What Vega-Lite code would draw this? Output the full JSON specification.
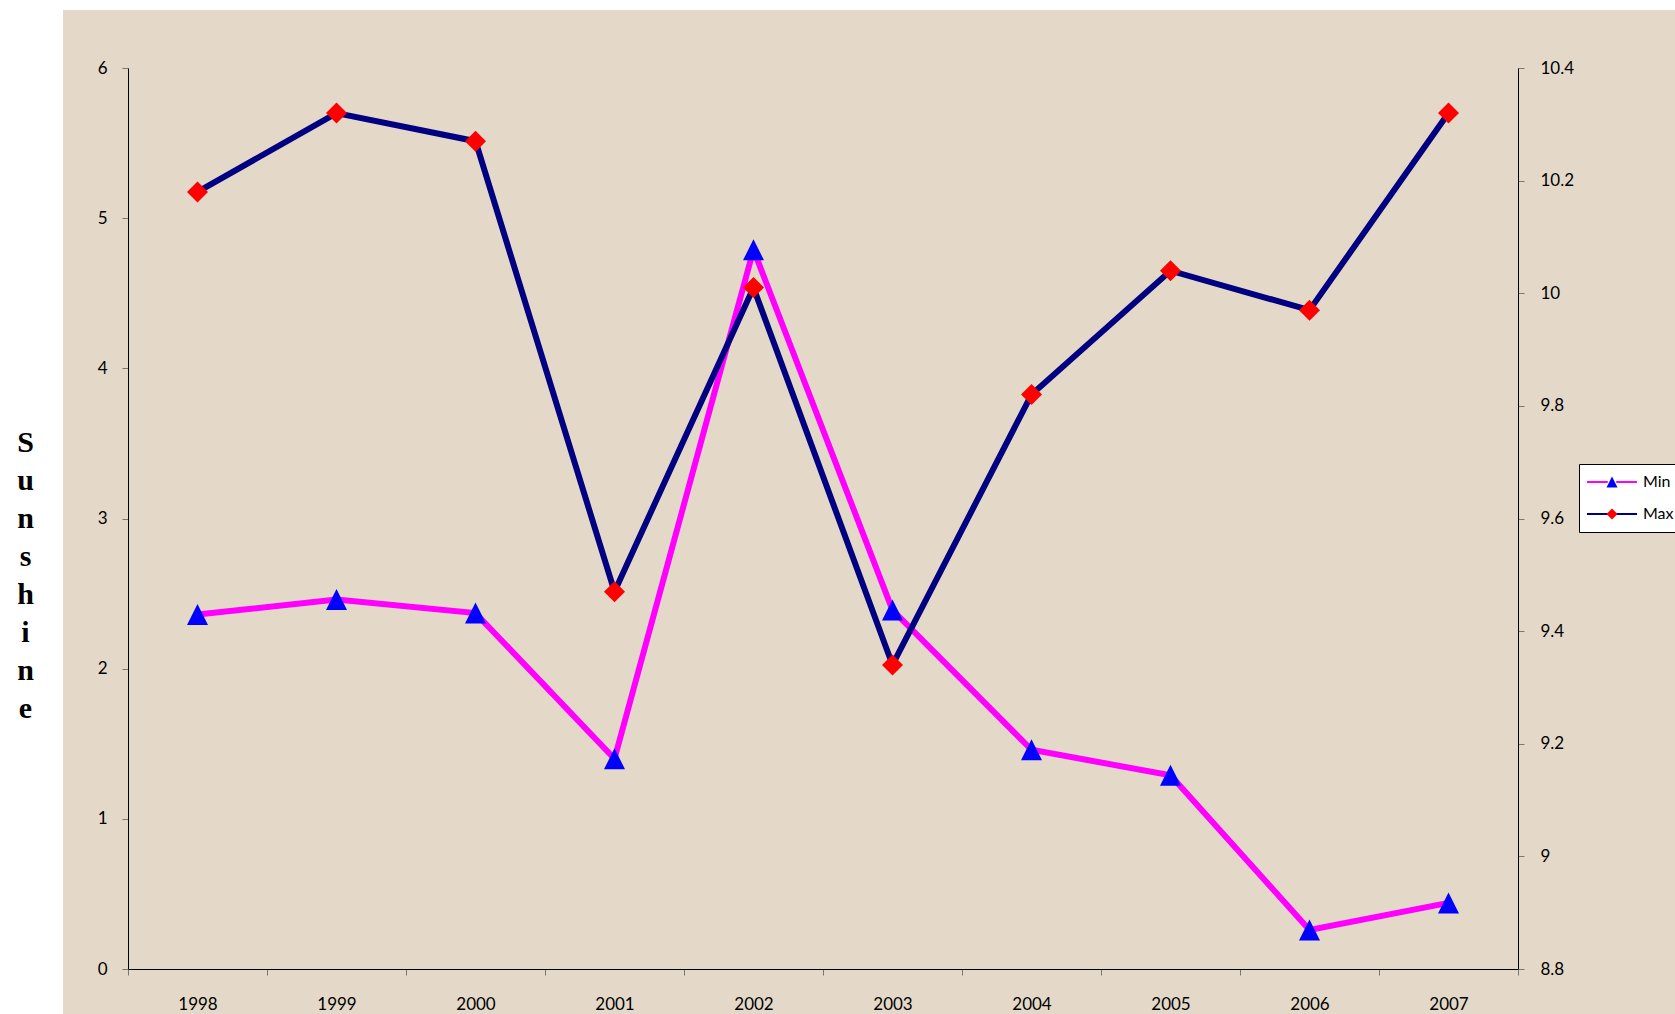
{
  "$schema": "https://vega.github.io/schema/vega-lite/v6.json",
  "width": 1612,
  "height": 1004,
  "autosize": {"type": "none"},
  "padding": {"left": 63, "top": 10, "right": 0, "bottom": 0},
  "background": "#ffffff",
  "config": {
    "view": {"fill": "#E4D9C8", "stroke": null},
    "font": "Lato"
  },
  "data": {
    "values": [
      {"year": 1998, "series": "Min", "value": 2.36},
      {"year": 1999, "series": "Min", "value": 2.46},
      {"year": 2000, "series": "Min", "value": 2.37},
      {"year": 2001, "series": "Min", "value": 1.40},
      {"year": 2002, "series": "Min", "value": 4.79},
      {"year": 2003, "series": "Min", "value": 2.39},
      {"year": 2004, "series": "Min", "value": 1.46},
      {"year": 2005, "series": "Min", "value": 1.29},
      {"year": 2006, "series": "Min", "value": 0.26},
      {"year": 2007, "series": "Min", "value": 0.44},
      {"year": 1998, "series": "Max", "value": 10.18},
      {"year": 1999, "series": "Max", "value": 10.32},
      {"year": 2000, "series": "Max", "value": 10.27},
      {"year": 2001, "series": "Max", "value": 9.47},
      {"year": 2002, "series": "Max", "value": 10.01},
      {"year": 2003, "series": "Max", "value": 9.34},
      {"year": 2004, "series": "Max", "value": 9.82},
      {"year": 2005, "series": "Max", "value": 10.04},
      {"year": 2006, "series": "Max", "value": 9.97},
      {"year": 2007, "series": "Max", "value": 10.32}
    ]
  },
  "encoding": {
    "x": {
      "field": "year",
      "type": "ordinal",
      "scale": {"type": "band", "range": [65, 1455], "paddingInner": 0, "paddingOuter": 0},
      "axis": {
        "orient": "bottom",
        "offset": -45,
        "tickBand": "extent",
        "title": null,
        "labelAngle": 0,
        "labelFontSize": 17,
        "labelPadding": 21,
        "labelColor": "#000000",
        "grid": false,
        "domainColor": "#000000",
        "tickColor": "#777777",
        "tickSize": 6
      }
    }
  },
  "layer": [
    {
      "transform": [{"filter": "datum.series === 'Min'"}],
      "encoding": {
        "y": {
          "field": "value",
          "type": "quantitative",
          "scale": {"domain": [0, 6], "range": [959, 58], "nice": false, "zero": false},
          "axis": {
            "orient": "left",
            "offset": -65,
            "values": [0, 1, 2, 3, 4, 5, 6],
            "grid": false,
            "domainColor": "#000000",
            "tickColor": "#777777",
            "tickSize": 6,
            "labelFontSize": 17,
            "labelPadding": 15,
            "labelColor": "#000000",
            "title": ["S", "u", "n", "s", "h", "i", "n", "e"],
            "titleFont": "Liberation Serif",
            "titleFontSize": 30,
            "titleFontWeight": "bold",
            "titleColor": "#000000",
            "titleAngle": 0,
            "titleAlign": "center",
            "titleBaseline": "alphabetic",
            "titleLineHeight": 38,
            "titleX": -103,
            "titleY": 441
          }
        }
      },
      "layer": [
        {
          "mark": {"type": "line", "strokeWidth": 6},
          "encoding": {
            "stroke": {
              "field": "series",
              "type": "nominal",
              "scale": {"domain": ["Min", "Max"], "range": ["#FF00FF", "#000080"]},
              "legend": {
                "title": null,
                "orient": "none",
                "legendX": 1516,
                "legendY": 454,
                "symbolType": "M-3.57,0H-0.6M0.6,0H3.57",
                "symbolSize": 196,
                "symbolStrokeWidth": 2,
                "symbolFillColor": "transparent",
                "symbolOffset": 15,
                "labelOffset": 23,
                "labelFontSize": 16,
                "labelColor": "#000000",
                "padding": 10,
                "rowPadding": 16,
                "strokeColor": "#000000",
                "fillColor": "#ffffff"
              }
            }
          }
        },
        {
          "mark": {"type": "point", "filled": true, "size": 441, "opacity": 1, "strokeWidth": 0},
          "encoding": {
            "fill": {
              "field": "series",
              "type": "nominal",
              "scale": {"range": ["#FF0000", "#0000FF"]},
              "legend": {
                "title": null,
                "orient": "none",
                "legendX": 1516,
                "legendY": 454,
                "values": ["Min", "Max"],
                "symbolSize": 121,
                "symbolStrokeWidth": 0,
                "symbolOffset": 15,
                "labelOffset": 23,
                "labelFontSize": 16,
                "labelColor": "transparent",
                "padding": 10,
                "rowPadding": 16
              }
            },
            "shape": {
              "field": "series",
              "type": "nominal",
              "scale": {"range": ["M0,-1L1,0L0,1L-1,0Z", "M0,-1L1,1L-1,1Z"]},
              "legend": {
                "title": null,
                "orient": "none",
                "legendX": 1516,
                "legendY": 454,
                "values": ["Min", "Max"],
                "symbolSize": 121,
                "symbolStrokeWidth": 0,
                "symbolOffset": 15,
                "labelOffset": 23,
                "labelFontSize": 16,
                "labelColor": "transparent",
                "padding": 10,
                "rowPadding": 16
              }
            }
          }
        }
      ]
    },
    {
      "transform": [{"filter": "datum.series === 'Max'"}],
      "encoding": {
        "y": {
          "field": "value",
          "type": "quantitative",
          "scale": {"domain": [8.8, 10.4], "range": [959, 58], "nice": false, "zero": false},
          "axis": {
            "orient": "right",
            "offset": -157,
            "values": [8.8, 9, 9.2, 9.4, 9.6, 9.8, 10, 10.2, 10.4],
            "format": "~g",
            "grid": false,
            "domainColor": "#000000",
            "tickColor": "#777777",
            "tickSize": 6,
            "labelFontSize": 17,
            "labelPadding": 16,
            "labelColor": "#000000",
            "title": null
          }
        }
      },
      "layer": [
        {
          "mark": {"type": "line", "strokeWidth": 6},
          "encoding": {
            "stroke": {"field": "series", "type": "nominal"}
          }
        },
        {
          "mark": {"type": "point", "filled": true, "size": 441, "opacity": 1, "strokeWidth": 0},
          "encoding": {
            "fill": {"field": "series", "type": "nominal"},
            "shape": {"field": "series", "type": "nominal"}
          }
        }
      ]
    }
  ],
  "resolve": {"scale": {"y": "independent"}}
}
